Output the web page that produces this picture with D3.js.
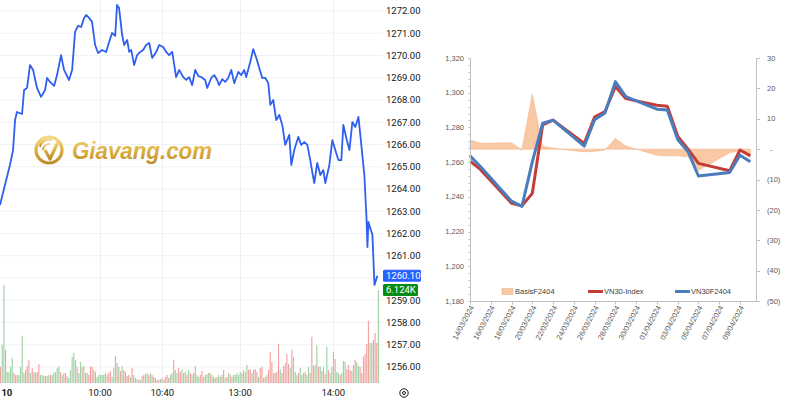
<!DOCTYPE html>
<html><head><meta charset="utf-8">
<script src="https://cdn.jsdelivr.net/npm/d3@7"></script>
<style>html,body{margin:0;padding:0;background:#fff;}svg{display:block;}</style>
</head><body>
<svg id="c" width="800" height="400"></svg>
<script>
// ---------- LEFT CHART DATA (intraday VN30F) ----------
const priceTicks = [1256,1257,1258,1259,1261,1262,1263,1264,1265,1266,1267,1268,1269,1270,1271,1272];
const timeTickPos = [0, 60, 100, 150, 210];              // trading minutes from 09:00 (lunch removed)
const timeTickLabels = ["10", "10:00", "10:40", "13:00", "14:00"];
const priceT = [-4.4,-1.2,2.0,4.0,5.3,6.5,9.8,11.1,13.0,14.9,16.9,19.4,22.0,24.6,25.9,27.8,30.4,32.3,34.9,36.8,40.0,42.0,43.9,45.8,47.8,49.7,51.0,52.9,54.8,56.8,58.7,61.3,63.9,65.8,67.7,69.7,70.9,72.2,74.2,75.5,77.4,78.7,80.0,81.9,83.8,85.8,87.7,89.6,91.6,93.5,96.1,98.0,100.6,102.5,104.4,106.4,108.9,110.9,113.5,115.4,117.3,119.2,121.2,123.1,125.0,127.6,128.9,131.5,133.4,135.3,136.6,138.6,140.5,142.4,144.4,146.3,148.9,150.8,152.7,154.0,156.6,158.5,160.5,162.4,164.3,166.3,168.2,169.5,171.4,173.3,175.3,177.2,179.1,181.7,183.0,184.9,187.5,189.4,191.4,193.3,195.2,196.5,197.8,199.7,201.7,203.6,204.9,207.5,209.4,211.3,213.3,215.2,216.5,218.4,220.4,222.3,224.2,226.2,227.4,230.0,231.3,232.0,232.6,235.2,236.5,238.4];
const priceV = [1263.28,1264.18,1265.08,1265.75,1267.10,1267.46,1267.37,1268.45,1268.54,1269.57,1269.35,1268.54,1268.14,1268.45,1268.99,1268.81,1268.63,1269.12,1270.02,1269.35,1268.90,1269.35,1271.06,1271.33,1271.28,1271.69,1271.82,1271.69,1271.51,1270.47,1270.11,1270.25,1270.16,1270.61,1271.01,1270.88,1272.27,1272.13,1270.92,1270.47,1270.70,1270.16,1270.25,1269.57,1270.02,1270.16,1270.25,1270.47,1270.56,1269.89,1270.16,1270.47,1270.38,1270.16,1270.02,1270.16,1269.03,1269.35,1269.03,1268.90,1269.03,1268.67,1269.35,1269.08,1269.03,1268.90,1268.54,1268.99,1269.12,1268.90,1268.67,1268.94,1268.81,1268.99,1269.35,1268.76,1269.26,1269.12,1269.35,1269.03,1269.71,1270.29,1269.89,1269.44,1268.99,1268.99,1268.76,1267.78,1268.00,1267.10,1267.33,1266.88,1265.98,1266.43,1265.08,1265.75,1266.34,1265.98,1266.11,1265.98,1265.30,1264.76,1264.27,1265.17,1264.63,1264.85,1264.27,1265.08,1266.20,1265.75,1265.30,1265.30,1266.88,1266.29,1265.75,1267.01,1266.79,1267.24,1266.43,1264.63,1262.83,1261.39,1262.52,1261.93,1259.69,1260.10];
const lastPrice = 1260.10;
const volumes = [
 1060,2510,6470,2180,730,730,1060,1650,660,530,530,530,1060,3100,660,860,1120,1520,660,990,730,660,730,1250,530,530,460,460,460,530,530,530,660,730,990,1060,730,530,660,660,460,330,860,1720,1980,1520,1060,660,1390,1060,1120,660,660,530,1060,1060,860,730,400,530,530,530,530,660,530,660,790,400,990,1780,1320,1060,790,1120,860,730,
 460,530,400,990,530,330,260,200,200,460,530,590,660,530,660,530,400,330,200,200,260,330,200,400,530,330,530,660,1520,860,660,990,730,920,660,730,530,860,660,530,660,1120,530,400,530,790,400,530,590,660,660,530,400,330,400,530,400,530,860,330,400,660,530,400,530,530,660,530,730,660,860,730,1190,860,920,660,860,
 920,730,400,990,1060,330,400,530,860,2050,1390,660,660,730,2570,920,660,1120,1320,1910,1250,990,2180,1720,730,530,660,990,530,660,730,530,1060,660,3040,1120,1190,2510,1060,1120,790,1060,590,2380,860,660,1060,2050,1580,730,660,530,660,1450,1390,920,1190,860,790,1190,1520,1390,1120,1060,660,1720,1910,2570,4090,2640,2640,2840,3300,2640,6124];
const volumeDirs = ("rggrggggrr"+"rggggrrrgr"+"grrrggrrgg"+"rgggggrgrr"+"rgggggrggr"+"grgrrrgrgg"+"ggrggrrggg"+"rgrgrr"
 +"rrgrgrgrgr"+"grgrgrgrgr"+"grgrrrggrg"+"grrgrgrgrg"+"rrggrrgrgg"+"rgrgrggrrg"+"rgrgrggggr"+"gggrrgr"
 +"rrgrrgrgrr"+"rgrrrgrrrr"+"rgrgggrggg"+"rggrrrggrg"+"rgrgrgggrg"+"grgggrrrgg"+"rggrrrrrrg"+"grrrg").split("");
const lastVolumeLabel = "6.124K";

// ---------- RIGHT CHART DATA ----------
const dates = ["2024-03-14","2024-03-15","2024-03-18","2024-03-19","2024-03-20","2024-03-21","2024-03-22","2024-03-25","2024-03-26","2024-03-27","2024-03-28","2024-03-29","2024-04-01","2024-04-02","2024-04-03","2024-04-04","2024-04-05","2024-04-08","2024-04-09","2024-04-10"];
const vn30Index = [1260.6,1255.8,1236.3,1234.8,1242.0,1281.5,1284.2,1270.7,1286.0,1289.2,1303.5,1296.6,1292.8,1292.2,1275.0,1267.5,1259.3,1255.0,1267.0,1263.6];
const vn30F2404 = [1263.6,1257.5,1237.5,1234.5,1260.2,1282.4,1284.2,1269.2,1284.5,1288.3,1306.4,1297.7,1290.5,1290.0,1273.0,1266.0,1252.0,1254.0,1264.0,1260.2];
const basisF2404 = [3.0,1.9,2.1,-0.3,18.1,0.9,0.3,-0.9,-0.7,-0.3,3.5,1.0,-2.0,-2.2,-2.2,-2.5,-7.0,-1.2,-0.5,-1.6];
const leftTicks = [1180,1200,1220,1240,1260,1280,1300,1320];
const rightTicks = [-50,-40,-30,-20,-10,0,10,20,30];
const dateTickLabels = ["14/03/2024","16/03/2024","18/03/2024","20/03/2024","22/03/2024","24/03/2024","26/03/2024","28/03/2024","30/03/2024","01/04/2024","03/04/2024","05/04/2024","07/04/2024","09/04/2024"];
const seriesNames = ["BasisF2404","VN30-Index","VN30F2404"];

const svg = d3.select("#c");

// ================= LEFT CHART =================
const L = svg.append("g");
const x = d3.scaleLinear().domain([-4.4, 242]).range([0, 383]);
const y = d3.scaleLinear().domain([1256, 1272]).range([367, 11]);
const yv = d3.scaleLinear().domain([0, 6124]).range([383, 290]);
const xb = d3.scaleBand().domain(d3.range(volumes.length)).range([0, 379]).paddingInner(0.3);

// grid
L.append("g").selectAll("line").data(priceTicks.concat([1260])).join("line")
  .attr("x1",0).attr("x2",383).attr("y1",d=>y(d)).attr("y2",d=>y(d))
  .attr("stroke","#eff1f6").attr("stroke-width",1);
L.append("g").selectAll("line").data(timeTickPos.slice(1)).join("line")
  .attr("x1",d=>Math.round(x(d))+0.5).attr("x2",d=>Math.round(x(d))+0.5).attr("y1",0).attr("y2",383)
  .attr("stroke","#eff1f6").attr("stroke-width",1);

// logo watermark
const defs = svg.append("defs");
const gold = defs.append("linearGradient").attr("id","gold").attr("x1","0").attr("y1","0").attr("x2","0").attr("y2","1");
gold.append("stop").attr("offset","0").attr("stop-color","#f3d778");
gold.append("stop").attr("offset","0.5").attr("stop-color","#d9a930");
gold.append("stop").attr("offset","1").attr("stop-color","#b98318");
const logo = L.append("g").attr("opacity",0.92);
logo.append("circle").attr("cx",49).attr("cy",150).attr("r",13).attr("fill","none").attr("stroke","url(#gold)").attr("stroke-width",3.2);
logo.append("path").attr("d","M40,147 A9,9 0 0 1 52,140").attr("fill","none").attr("stroke","url(#gold)").attr("stroke-width",2);
logo.append("path").attr("d","M43,150 A6,6 0 0 1 50,144").attr("fill","none").attr("stroke","url(#gold)").attr("stroke-width",1.8);
logo.append("path").attr("d","M45,150 L50,159 L58,142").attr("fill","none").attr("stroke","url(#gold)").attr("stroke-width",3.2).attr("stroke-linejoin","round");
logo.append("text").attr("x",72).attr("y",159).text("Giavang.com")
  .attr("font-family","Liberation Sans, Arial, sans-serif").attr("font-weight","bold").attr("font-style","italic")
  .attr("font-size",24).attr("textLength",140).attr("lengthAdjust","spacingAndGlyphs").attr("fill","url(#gold)");

// volume bars
L.append("g").selectAll("rect").data(volumes).join("rect")
  .attr("x",(d,i)=>xb(i)).attr("width",xb.bandwidth())
  .attr("y",d=>yv(d)).attr("height",d=>383-yv(d))
  .attr("fill",(d,i)=>volumeDirs[i]==="g" ? "#9fd3a5" : "#f3a2a2");

// price line
const pts = priceT.map((t,i)=>[t, priceV[i]]);
L.append("path").datum(pts)
  .attr("d", d3.line().x(d=>x(d[0])).y(d=>y(d[1])))
  .attr("fill","none").attr("stroke","#2f5ff0").attr("stroke-width",1.8).attr("stroke-linejoin","round");

// price scale labels
L.append("g").selectAll("text").data(priceTicks).join("text")
  .attr("x",386).attr("y",d=>y(d)).attr("dy","0.35em").text(d3.format(".2f"))
  .attr("font-family","Roboto, sans-serif").attr("font-size",9.5).attr("fill","#131722");
// last price label
L.append("rect").attr("x",383).attr("y",y(lastPrice)-6).attr("width",38).attr("height",12).attr("rx",1.5).attr("fill","#2962ff");
L.append("text").attr("x",386).attr("y",y(lastPrice)).attr("dy","0.35em").text(d3.format(".2f")(lastPrice))
  .attr("font-family","Roboto, sans-serif").attr("font-size",9.5).attr("fill","#fff");
L.append("rect").attr("x",383).attr("y",284).attr("width",35).attr("height",12).attr("rx",1.5).attr("fill","#078c16");
L.append("text").attr("x",386).attr("y",290).attr("dy","0.35em").text(lastVolumeLabel)
  .attr("font-family","Roboto, sans-serif").attr("font-size",9.5).attr("fill","#fff");

// time axis labels
L.append("g").selectAll("text").data(timeTickPos).join("text")
  .attr("x",d=>x(d)).attr("y",393).attr("dy","0.35em").attr("text-anchor","middle")
  .text((d,i)=>timeTickLabels[i])
  .attr("font-family","Roboto, sans-serif").attr("font-size",9.5).attr("fill","#131722")
  .attr("font-weight",(d,i)=>i===0?"bold":"normal");
// settings icon
L.append("circle").attr("cx",404).attr("cy",393).attr("r",4.2).attr("fill","none").attr("stroke","#131722").attr("stroke-width",1);
L.append("circle").attr("cx",404).attr("cy",393).attr("r",1.5).attr("fill","none").attr("stroke","#131722").attr("stroke-width",1);

// ================= RIGHT CHART =================
const R = svg.append("g");
const parse = d3.timeParse("%Y-%m-%d");
const parseTick = d3.timeParse("%d/%m/%Y");
const dts = dates.map(parse);
const xr = d3.scaleTime().domain([parse("2024-03-14"), d3.timeHour.offset(parse("2024-04-10"), 13)]).range([470, 756]);
const yl = d3.scaleLinear().domain([1180, 1320]).range([301, 58]);
const yr = d3.scaleLinear().domain([-50, 30]).range([301, 58]);
const axisColor = "#bfbfbf", txtColor = "#595959", fnt = "Liberation Sans, Arial, sans-serif";

// basis area
R.append("path").datum(basisF2404)
  .attr("d", d3.area().x((d,i)=>xr(dts[i])).y0(yr(0)).y1(d=>yr(d)))
  .attr("fill","#f9c9a5").attr("stroke","#f2b48a").attr("stroke-width",0.6);
// lines
R.append("path").datum(vn30Index)
  .attr("d", d3.line().x((d,i)=>xr(dts[i])).y(d=>yl(d)))
  .attr("fill","none").attr("stroke","#c43c37").attr("stroke-width",3).attr("stroke-linejoin","round");
R.append("path").datum(vn30F2404)
  .attr("d", d3.line().x((d,i)=>xr(dts[i])).y(d=>yl(d)))
  .attr("fill","none").attr("stroke","#4a7dbe").attr("stroke-width",3).attr("stroke-linejoin","round");

// left axis
R.append("line").attr("x1",470.5).attr("x2",470.5).attr("y1",58).attr("y2",301).attr("stroke",axisColor);
R.append("g").selectAll("line").data(d3.range(1180, 1321, 4)).join("line")
  .attr("x1",468).attr("x2",470.5).attr("y1",d=>Math.round(yl(d))+0.5).attr("y2",d=>Math.round(yl(d))+0.5)
  .attr("stroke",axisColor).attr("stroke-width",0.8);
R.append("g").selectAll("text").data(leftTicks).join("text")
  .attr("x",464).attr("y",d=>yl(d)).attr("dy","0.35em").attr("text-anchor","end").text(d3.format(","))
  .attr("font-family",fnt).attr("font-size",7.5).attr("fill",txtColor);
// right axis
R.append("line").attr("x1",756.5).attr("x2",756.5).attr("y1",58).attr("y2",301).attr("stroke",axisColor);
R.append("g").selectAll("line").data(rightTicks).join("line")
  .attr("x1",756.5).attr("x2",760).attr("y1",d=>Math.round(yr(d))+0.5).attr("y2",d=>Math.round(yr(d))+0.5)
  .attr("stroke",axisColor);
R.append("g").selectAll("text").data(rightTicks).join("text")
  .attr("x",d=>d===0?770:767).attr("y",d=>yr(d)).attr("dy","0.35em")
  .text(d=>d>0?String(d):(d===0?"-":"("+(-d)+")"))
  .attr("font-family",fnt).attr("font-size",7.5).attr("fill",txtColor);
// bottom axis
R.append("line").attr("x1",470).attr("x2",756.5).attr("y1",301.5).attr("y2",301.5).attr("stroke",axisColor);
const dTicks = dateTickLabels.map(parseTick);
R.append("g").selectAll("line").data(dTicks).join("line")
  .attr("x1",d=>Math.round(xr(d))+0.5).attr("x2",d=>Math.round(xr(d))+0.5).attr("y1",301.5).attr("y2",304.5)
  .attr("stroke",axisColor);
R.append("g").selectAll("text").data(dTicks).join("text")
  .attr("transform",d=>`translate(${xr(d)+2},306) rotate(-62)`)
  .attr("text-anchor","end").attr("dy","0.35em")
  .text((d,i)=>dateTickLabels[i])
  .attr("font-family",fnt).attr("font-size",7.5).attr("fill",txtColor);

// legend
const lg = R.append("g");
lg.append("rect").attr("x",502).attr("y",288.5).attr("width",11).attr("height",6).attr("fill","#f9c9a5").attr("stroke","#f2b48a").attr("stroke-width",0.6);
lg.append("line").attr("x1",588).attr("x2",603).attr("y1",291.5).attr("y2",291.5).attr("stroke","#c43c37").attr("stroke-width",3);
lg.append("line").attr("x1",675).attr("x2",690).attr("y1",291.5).attr("y2",291.5).attr("stroke","#4a7dbe").attr("stroke-width",3);
lg.selectAll("text").data(seriesNames).join("text")
  .attr("x",(d,i)=>[515,604,691][i]).attr("y",291.5).attr("dy","0.35em").text(d=>d)
  .attr("font-family",fnt).attr("font-size",7.5).attr("fill","#404040");
</script>
</body></html>
